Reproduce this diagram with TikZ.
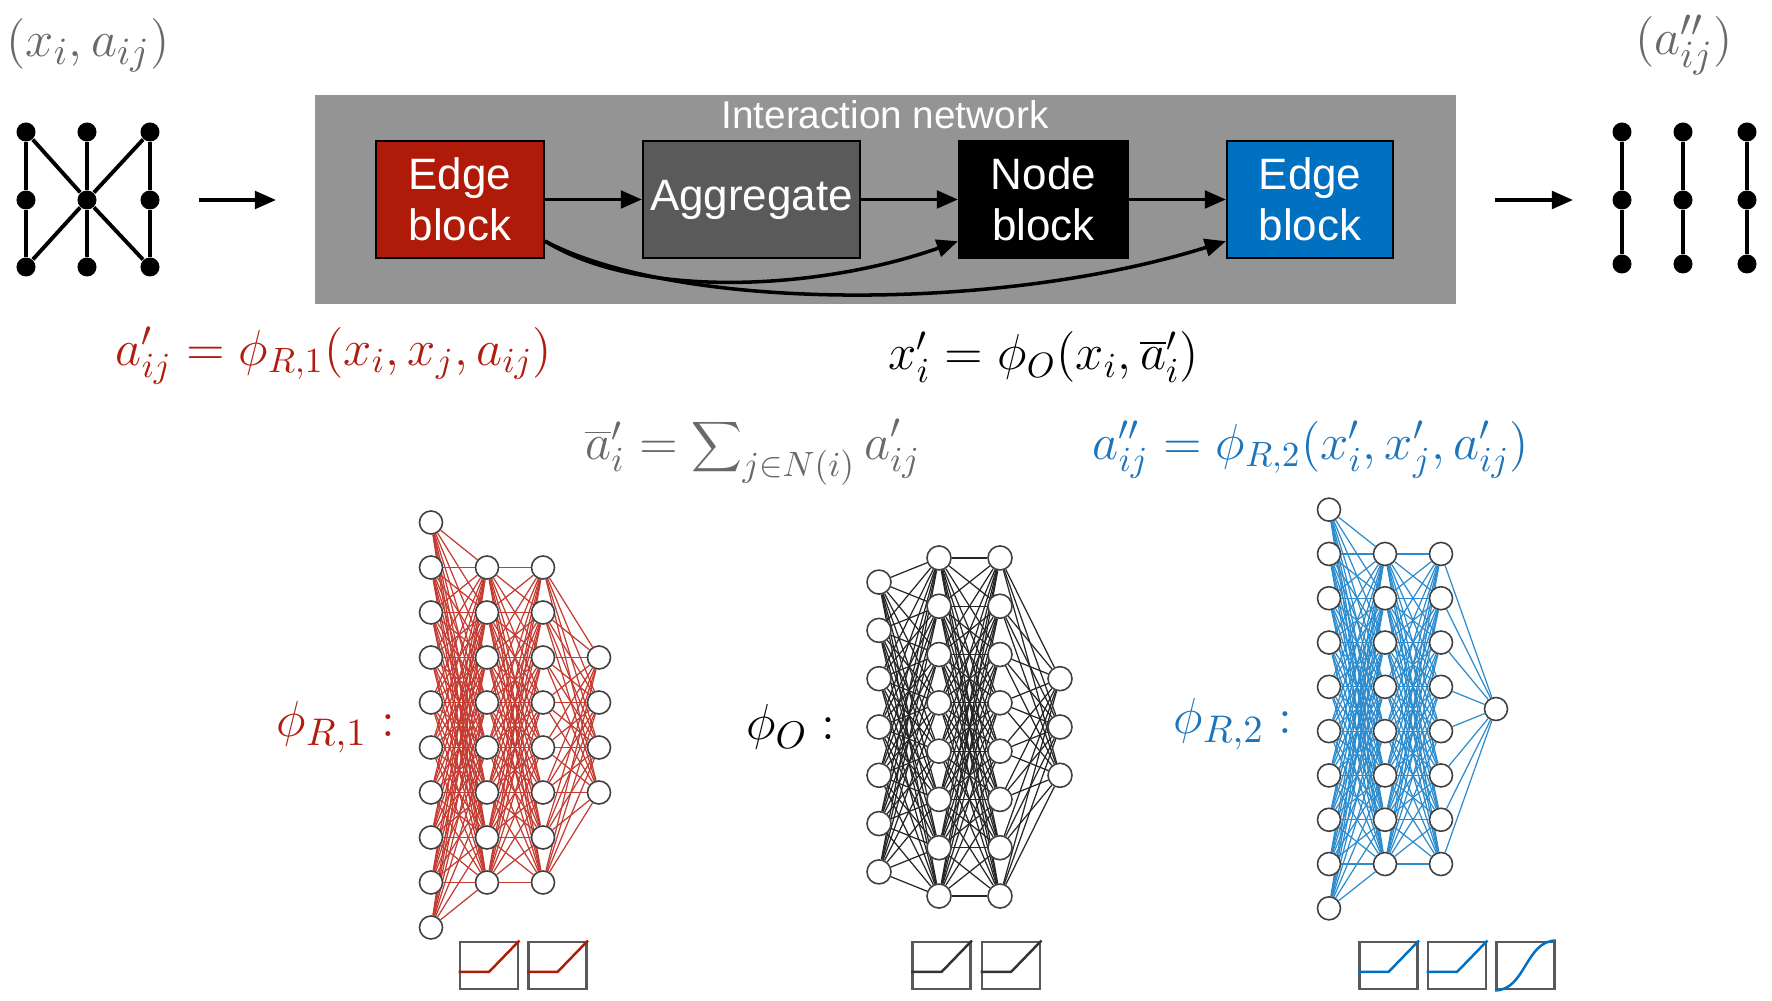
\documentclass[tikz,border=0pt]{standalone}
\usepackage{fontspec}
\setsansfont{Liberation Sans}
\usetikzlibrary{arrows.meta,calc,backgrounds}

\definecolor{edgered}{RGB}{176,26,8}
\definecolor{edgeblue}{RGB}{0,112,192}
\definecolor{eqred}{RGB}{176,28,14}
\definecolor{eqblue}{RGB}{28,117,188}
\definecolor{eqgray}{RGB}{105,105,105}
\definecolor{netgray}{RGB}{148,148,148}
\definecolor{agggray}{RGB}{90,90,90}
\definecolor{wirered}{RGB}{196,60,50}
\definecolor{wireblue}{RGB}{45,140,205}

\tikzset{
  dot/.style={circle, fill=black, minimum size=0.19cm, inner sep=0pt},
  gline/.style={line width=1.1pt},
  block/.style={draw=black, line width=0.6pt, text=white, align=center,
    font=\sffamily\fontsize{12.5}{14.5}\selectfont, minimum height=1.17cm, inner sep=0pt},
  flow/.style={-{Triangle[length=6pt,width=5pt]}, line width=1pt},
  neuron/.style={circle, draw=black!75, fill=white, line width=0.45pt, inner sep=0pt},
  eqn/.style={font=\fontsize{14.5}{17}\selectfont, inner sep=0pt},
  actbox/.style={draw=black!65, line width=0.8pt, minimum width=0.58cm, minimum height=0.47cm, inner sep=0pt},
}

\begin{document}
\begin{tikzpicture}[x=0.01cm, y=-0.01cm]
    \useasboundingbox (0,0) rectangle (1772,1001);

    % Input graph
    \foreach \c/\x in {1/26,2/87,3/150}
      \foreach \r/\y in {1/132,2/200,3/267}
        \node[dot] (g\c\r) at (\x,\y) {};
    \foreach \c in {1,2,3}
      \draw[gline] (g\c1) -- (g\c2) -- (g\c3);
    \draw[gline] (g11) -- (g22) -- (g33);
    \draw[gline] (g31) -- (g22) -- (g13);
    \node[eqn, text=eqgray, font=\fontsize{15.5}{18}\selectfont] (inlab) at (88,45) {$(x_i, a_{ij})$};

    % Output graph
    \foreach \c/\x in {1/1622,2/1683,3/1747}
      \foreach \r/\y in {1/132,2/200,3/264}
        \node[dot] (h\c\r) at (\x,\y) {};
    \foreach \c in {1,2,3}
      \draw[gline] (h\c1) -- (h\c2) -- (h\c3);
    \node[eqn, text=eqgray, font=\fontsize{15.5}{18}\selectfont] (outlab) at (1684,45) {$(a''_{ij})$};

    % In and out arrows
    \coordinate (inA) at (199,200);
    \coordinate (inB) at (276,200);
    \coordinate (outA) at (1495,200);
    \coordinate (outB) at (1573,200);
    \draw[flow] (inA) -- (inB);
    \draw[flow] (outA) -- (outB);

    % Interaction network box
    \node[fill=netgray, minimum width=11.41cm, minimum height=2.09cm, inner sep=0pt] (inet) at (885.5,199.5) {};
    \node[text=white, font=\sffamily\fontsize{11}{13}\selectfont] (ititle) at (885,115) {Interaction network};

    \node[block, fill=edgered, minimum width=1.68cm] (eb1) at (460,199.5) {Edge\\block};
    \node[block, fill=agggray, minimum width=2.17cm] (agg) at (751.5,199.5) {Aggregate};
    \node[block, fill=black, minimum width=1.69cm] (nb) at (1043.5,199.5) {Node\\block};
    \node[block, fill=edgeblue, minimum width=1.66cm] (eb2) at (1310,199.5) {Edge\\block};

    \draw[flow] (eb1.east) -- (agg.west);
    \draw[flow] (agg.east) -- (nb.west);
    \draw[flow] (nb.east) -- (eb2.west);

    \coordinate (eb1o) at ($(eb1.east)!0.7!(eb1.south east)$);
    \coordinate (nbi) at ($(nb.west)!0.7!(nb.south west)$);
    \coordinate (eb2i) at ($(eb2.west)!0.7!(eb2.south west)$);
    \draw[flow] (eb1o) .. controls (640,300) and (820,290) .. (nbi);
    \draw[flow] (eb1o) .. controls (680,312) and (1000,312) .. (eb2i);

    % Update rules
    \node[eqn, text=eqred] (eqedge1) at (334,356) {$a'_{ij} = \phi_{R,1}(x_i, x_j, a_{ij})$};
    \node[eqn] (eqnode) at (1044,357) {$x'_i = \phi_O(x_i, \overline{a}'_i)$};
    \node[eqn, text=eqgray] (eqagg) at (753,452) {$\overline{a}'_i = \displaystyle\sum\nolimits_{j\in N(i)} a'_{ij}$};
    \node[eqn, text=eqblue] (eqedge2) at (1311,450) {$a''_{ij} = \phi_{R,2}(x'_i, x'_j, a'_{ij})$};

    % MLP labels
    \node[eqn, text=eqred, font=\fontsize{15.5}{18}\selectfont] (phir1) at (336,727) {$\phi_{R,1}:$};
    \node[eqn, font=\fontsize{15.5}{18}\selectfont] (phio) at (791,727) {$\phi_O:$};
    \node[eqn, text=eqblue, font=\fontsize{15.5}{18}\selectfont] (phir2) at (1233,724) {$\phi_{R,2}:$};

    % Edge MLP (red)
    \foreach \l/\x/\n in {1/431/10, 2/487/8, 3/543/8, 4/599/4}
      \foreach \i in {1,...,\n}
        \node[neuron, minimum size=0.23cm] (r\l-\i) at (\x, {725+(\i-(\n+1)/2)*45}) {};

    % Node MLP (black)
    \foreach \l/\x/\n in {1/879/7, 2/939/8, 3/1000/8, 4/1060/3}
      \foreach \i in {1,...,\n}
        \node[neuron, minimum size=0.24cm] (o\l-\i) at (\x, {727+(\i-(\n+1)/2)*48.3}) {};

    % Second edge MLP (blue)
    \foreach \l/\x/\n in {1/1329/10, 2/1385/8, 3/1441/8, 4/1496/1}
      \foreach \i in {1,...,\n}
        \node[neuron, minimum size=0.23cm] (b\l-\i) at (\x, {709+(\i-(\n+1)/2)*44.3}) {};

    % Weights
    \begin{pgfonlayer}{background}
      \foreach \a/\na/\b/\nb in {1/10/2/8, 2/8/3/8, 3/8/4/4}
        \foreach \i in {1,...,\na}
          \foreach \j in {1,...,\nb}
            \draw[wirered, line width=0.35pt] (r\a-\i) -- (r\b-\j);
      \foreach \a/\na/\b/\nb in {1/7/2/8, 2/8/3/8, 3/8/4/3}
        \foreach \i in {1,...,\na}
          \foreach \j in {1,...,\nb}
            \draw[black!85, line width=0.35pt] (o\a-\i) -- (o\b-\j);
      \foreach \a/\na/\b/\nb in {1/10/2/8, 2/8/3/8, 3/8/4/1}
        \foreach \i in {1,...,\na}
          \foreach \j in {1,...,\nb}
            \draw[wireblue, line width=0.35pt] (b\a-\i) -- (b\b-\j);
    \end{pgfonlayer}

    % Activations
    \node[actbox] (ar1) at (489,965.5) {};
    \node[actbox] (ar2) at (557.5,965.5) {};
    \node[actbox] (ao1) at (941.5,965.5) {};
    \node[actbox] (ao2) at (1011,965.5) {};
    \node[actbox] (ab1) at (1388.5,965.5) {};
    \node[actbox] (ab2) at (1457,965.5) {};
    \node[actbox] (ab3) at (1525.5,965.5) {};
    \foreach \bx/\cl in {ar1/edgered, ar2/edgered, ao1/black!80, ao2/black!80, ab1/edgeblue, ab2/edgeblue}
      \draw[\cl, line width=0.7pt] ($(\bx.south west)!0.37!(\bx.north west)$)
        -- ($(\bx.south)!0.37!(\bx.north)$) -- (\bx.north east);
    \draw[edgeblue, line width=0.7pt] (ab3.south west) .. controls (ab3.south) and (ab3.north) .. (ab3.north east);
\end{tikzpicture}
\end{document}
